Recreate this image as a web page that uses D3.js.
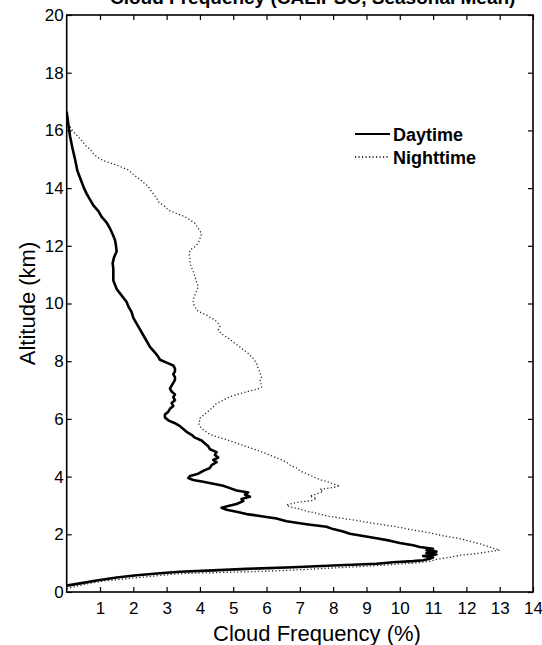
<!DOCTYPE html>
<html>
<head>
<meta charset="utf-8">
<script src="https://cdn.jsdelivr.net/npm/d3@7"></script>
<style>
  html, body { margin: 0; padding: 0; background: #fff; }
  svg { display: block; }
  text { font-family: "Liberation Sans", Arial, Helvetica, sans-serif; }
</style>
</head>
<body>
<svg id="chart" width="542" height="645"></svg>
<script>
// ---------------- DATA ----------------
const titleText = "Cloud Frequency (CALIPSO, Seasonal Mean)";
const xLabel = "Cloud Frequency (%)";
const yLabel = "Altitude (km)";
const seriesNames = ["Daytime", "Nighttime"];
const xTickValues = [1,2,3,4,5,6,7,8,9,10,11,12,13,14];
const yTickValues = [0,2,4,6,8,10,12,14,16,18,20];

// Daytime profile: altitude (km) and cloud frequency (%)
const dayAlt = [0.22,0.30,0.40,0.50,0.58,0.65,0.70,0.75,0.80,0.86,0.92,0.98,1.03,1.07,1.10,1.15,1.20,1.25,1.30,1.35,1.40,1.45,1.50,1.56,1.62,1.70,1.78,1.86,1.94,2.02,2.10,2.18,2.26,2.35,2.45,2.55,2.62,2.70,2.78,2.85,2.92,2.98,3.05,3.15,3.22,3.30,3.38,3.45,3.52,3.60,3.68,3.75,3.82,3.88,3.95,4.02,4.10,4.20,4.30,4.40,4.50,4.58,4.66,4.75,4.85,4.95,5.05,5.15,5.25,5.35,5.45,5.55,5.65,5.75,5.85,5.95,6.05,6.15,6.25,6.35,6.45,6.55,6.65,6.75,6.85,6.95,7.05,7.15,7.25,7.35,7.45,7.55,7.65,7.75,7.85,7.95,8.05,8.15,8.30,8.50,8.70,8.90,9.10,9.30,9.50,9.70,9.90,10.05,10.20,10.35,10.50,10.65,10.80,11.00,11.20,11.40,11.60,11.80,12.00,12.20,12.40,12.60,12.80,13.00,13.20,13.40,13.60,13.80,14.00,14.30,14.60,15.00,15.40,15.80,16.20,16.65];
const dayFreq = [0,0.4,0.9,1.5,2.1,2.8,3.4,4.4,5.4,6.8,8.0,9.3,9.8,10.4,10.7,10.9,11.0,10.7,11.1,10.8,11.1,10.8,11.0,10.6,10.4,10.0,9.7,9.3,8.9,8.5,8.3,8.0,7.8,7.2,6.6,6.3,5.9,5.4,5.1,4.8,4.65,4.85,5.1,5.3,5.25,5.5,5.35,5.45,5.1,4.9,4.7,4.4,4.1,3.8,3.65,3.7,3.95,4.1,4.3,4.35,4.5,4.4,4.55,4.45,4.5,4.3,4.25,4.15,4.05,3.85,3.75,3.6,3.5,3.4,3.25,3.05,2.95,2.95,3.05,3.1,3.2,3.15,3.25,3.2,3.25,3.15,3.1,3.15,3.2,3.25,3.25,3.2,3.25,3.25,3.2,3.0,2.8,2.75,2.65,2.5,2.4,2.3,2.2,2.1,2.0,1.95,1.85,1.8,1.7,1.6,1.5,1.45,1.4,1.4,1.4,1.38,1.42,1.5,1.48,1.45,1.38,1.3,1.2,1.05,0.95,0.8,0.7,0.6,0.52,0.42,0.32,0.25,0.17,0.1,0.05,0];

// Nighttime profile: altitude (km) and cloud frequency (%)
const nightAlt = [0.12,0.20,0.28,0.38,0.46,0.55,0.64,0.68,0.72,0.76,0.82,0.88,0.94,1.00,1.06,1.13,1.20,1.27,1.33,1.40,1.45,1.52,1.60,1.67,1.76,1.85,1.95,2.05,2.15,2.28,2.38,2.46,2.55,2.64,2.73,2.80,2.88,2.95,3.02,3.10,3.18,3.25,3.32,3.40,3.48,3.56,3.62,3.68,3.74,3.80,3.86,3.94,4.00,4.10,4.20,4.30,4.40,4.50,4.58,4.70,4.81,4.92,5.02,5.10,5.20,5.28,5.35,5.42,5.50,5.58,5.67,5.76,5.85,5.94,6.02,6.12,6.22,6.31,6.42,6.54,6.65,6.77,6.86,6.94,7.02,7.10,7.18,7.30,7.46,7.60,7.75,7.93,8.10,8.27,8.45,8.62,8.80,8.95,9.08,9.20,9.31,9.43,9.52,9.60,9.70,9.77,9.89,10.00,10.12,10.30,10.45,10.58,10.75,10.93,11.10,11.25,11.39,11.55,11.70,11.85,11.97,12.09,12.25,12.43,12.60,12.78,12.90,13.01,13.12,13.24,13.36,13.53,13.65,13.80,14.05,14.20,14.34,14.48,14.63,14.75,14.86,14.95,15.09,15.20,15.32,15.50,15.65,15.78,15.95,16.13,16.30];
const nightFreq = [0,0.3,0.6,1.1,1.8,2.6,3.4,4.8,6.0,6.8,7.8,8.8,9.6,10.4,10.9,11.1,11.5,11.8,12.3,12.7,13.0,12.8,12.6,12.4,12.1,11.8,11.3,10.9,10.4,9.8,9.2,8.8,8.3,7.8,7.5,7.2,7.0,6.7,6.6,6.9,7.4,7.5,7.3,7.5,7.7,7.6,8.0,8.2,8.0,7.9,7.7,7.5,7.4,7.2,7.0,6.9,6.7,6.6,6.45,6.2,5.95,5.7,5.45,5.25,5.0,4.8,4.6,4.4,4.25,4.15,4.05,4.0,3.95,4.0,4.0,4.1,4.2,4.3,4.4,4.5,4.7,4.9,5.15,5.4,5.7,5.85,5.85,5.8,5.85,5.8,5.75,5.7,5.6,5.45,5.25,5.05,4.85,4.65,4.55,4.6,4.55,4.45,4.3,4.2,4.0,3.9,3.85,3.8,3.8,3.85,3.9,3.95,3.9,3.85,3.8,3.75,3.7,3.7,3.68,3.7,3.85,3.95,4.0,4.05,3.95,3.85,3.7,3.55,3.3,3.05,2.95,2.75,2.7,2.6,2.45,2.3,2.15,2.0,1.85,1.6,1.35,1.1,0.9,0.8,0.72,0.55,0.45,0.35,0.2,0.1,0];

// ---------------- CHART ----------------
const svg = d3.select("#chart");
const plot = { left: 66.7, right: 533, top: 15, bottom: 592 };

const x = d3.scaleLinear().domain([0, 14]).range([plot.left, plot.right]);
const y = d3.scaleLinear().domain([0, 20]).range([plot.bottom, plot.top]);

svg.append("defs").append("clipPath").attr("id", "clip")
  .append("rect")
  .attr("x", plot.left).attr("y", plot.top)
  .attr("width", plot.right - plot.left).attr("height", plot.bottom - plot.top);

// Title (mostly cut off by the top edge in the original)
svg.append("text")
  .attr("x", 110).attr("y", 4)
  .attr("font-size", 19).attr("font-weight", "bold")
  .attr("fill", "#000")
  .text(titleText);

// Axes
function styleAxis(g) {
  g.select(".domain").remove();
  g.selectAll(".tick line").attr("stroke", "#000").attr("stroke-width", 1.2);
  g.selectAll(".tick text").attr("fill", "#000")
    .attr("font-family", '"Liberation Sans", Arial, Helvetica, sans-serif')
    .attr("font-size", 17);
}

svg.append("g")
  .attr("transform", `translate(0,${plot.bottom})`)
  .call(d3.axisBottom(x).tickValues(xTickValues).tickSize(-5).tickPadding(10).tickFormat(d3.format("d")))
  .call(styleAxis);

svg.append("g")
  .attr("transform", `translate(0,${plot.top})`)
  .call(d3.axisTop(x).tickValues(xTickValues).tickSize(-5).tickFormat(""))
  .call(styleAxis);

svg.append("g")
  .attr("transform", `translate(${plot.left},0)`)
  .call(d3.axisLeft(y).tickValues(yTickValues).tickSize(-5).tickPadding(3).tickFormat(d3.format("d")))
  .call(styleAxis);

svg.append("g")
  .attr("transform", `translate(${plot.right},0)`)
  .call(d3.axisRight(y).tickValues(yTickValues).tickSize(-5).tickFormat(""))
  .call(styleAxis);

// Frame
svg.append("rect")
  .attr("x", plot.left).attr("y", plot.top)
  .attr("width", plot.right - plot.left).attr("height", plot.bottom - plot.top)
  .attr("fill", "none").attr("stroke", "#000").attr("stroke-width", 1.6);

// Lines
const dayData = dayAlt.map((a, i) => ({ alt: a, f: dayFreq[i] }));
const nightData = nightAlt.map((a, i) => ({ alt: a, f: nightFreq[i] }));

const line = d3.line().x(d => x(d.f)).y(d => y(d.alt));

const g = svg.append("g").attr("clip-path", "url(#clip)");

g.append("path").datum(nightData)
  .attr("d", line)
  .attr("fill", "none")
  .attr("stroke", "#222")
  .attr("stroke-width", 1.3)
  .attr("stroke-dasharray", "1.2 2.3");

g.append("path").datum(dayData)
  .attr("d", line)
  .attr("fill", "none")
  .attr("stroke", "#000")
  .attr("stroke-width", 2.6)
  .attr("stroke-linejoin", "round");

// Legend
const legend = svg.append("g");
const legendItems = [
  { name: seriesNames[0], y: 134, dash: null, w: 2.2 },
  { name: seriesNames[1], y: 157, dash: "1.2 2.3", w: 1.3 }
];
legendItems.forEach(it => {
  legend.append("line")
    .attr("x1", 355).attr("x2", 390)
    .attr("y1", it.y).attr("y2", it.y)
    .attr("stroke", "#000").attr("stroke-width", it.w)
    .attr("stroke-dasharray", it.dash);
  legend.append("text")
    .attr("x", 393).attr("y", it.y + 6.5)
    .attr("font-size", 18).attr("font-weight", "bold")
    .attr("fill", "#000")
    .text(it.name);
});

// Axis titles
svg.append("text")
  .attr("x", 317).attr("y", 641)
  .attr("text-anchor", "middle")
  .attr("font-size", 22)
  .attr("fill", "#000")
  .text(xLabel);

svg.append("text")
  .attr("transform", `translate(35,${(plot.top + plot.bottom) / 2}) rotate(-90)`)
  .attr("text-anchor", "middle")
  .attr("font-size", 22)
  .attr("fill", "#000")
  .text(yLabel);
</script>
</body>
</html>
